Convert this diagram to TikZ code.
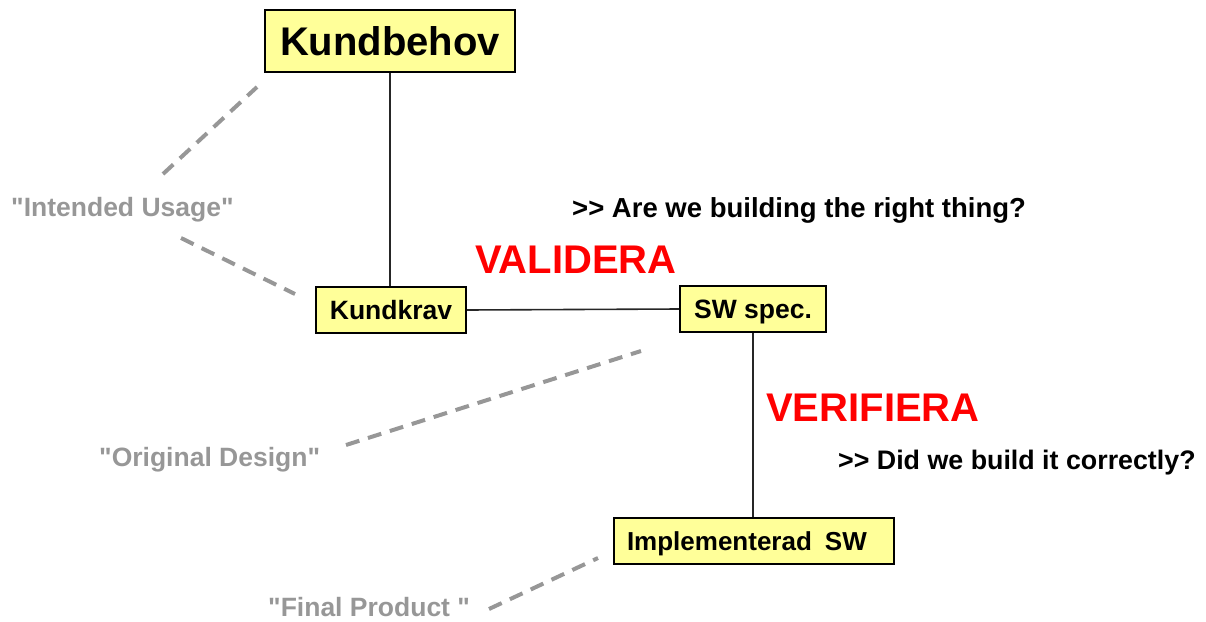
\documentclass[tikz,border=0pt]{standalone}
\usepackage{fontspec}
\setmainfont{Liberation Sans}[Ligatures=TeXOff]
\definecolor{boxfill}{HTML}{FFFF99}
\definecolor{lightgray}{HTML}{979797}
\definecolor{vred}{HTML}{FF0000}
\newcommand{\fsz}[1]{\fontsize{#1}{#1}\selectfont}
\begin{document}
\begin{tikzpicture}[x=1pt,y=-1pt,
  sbox/.style={draw=black, line width=1.6pt, fill=boxfill, inner sep=0pt,
     text height=19pt, text depth=0pt, font=\bfseries\fsz{26.5}},
  conn/.style={draw=black!85, line width=1.6pt},
  grayline/.style={draw=lightgray, line width=4pt, dash pattern=on 14pt off 9pt},
  graytext/.style={text=lightgray, font=\bfseries\fsz{26.5}, anchor=base west, inner sep=0pt},
  qtext/.style={text=black, font=\bfseries\fsz{26.5}, anchor=base west, inner sep=0pt},
  redtext/.style={text=vred, font=\bfseries\fsz{40}, anchor=base west, inner sep=0pt}
]
\useasboundingbox (0,0) rectangle (1206,621);

\node[sbox, font=\bfseries\fsz{40}, text height=28.6pt, minimum width=250pt, minimum height=62pt] (kb) at (390,41) {Kundbehov};
\node[sbox, minimum width=150pt, minimum height=46pt] (kk) at (391,310) {Kundkrav};
\node[sbox, minimum width=146pt, minimum height=46pt] (sw) at (753,309) {SW spec.};
\node[sbox, font=\bfseries\fsz{26}, minimum height=46pt, text width=254pt, inner xsep=13pt, align=left] (impl) at (754,541) {Implementerad\hspace{0.5em}SW};

\draw[conn] (kb.south) -- (kk.north -| kb.south);
\draw[conn] (kk.east) -- (sw.west);
\draw[conn] (sw.south) -- (impl.north -| sw.south);

\node[qtext, font=\bfseries\fsz{27.5}] (q1) at (572,217) {>> Are we building the right thing?};
\node[qtext, font=\bfseries\fsz{26.8}] (q2) at (838,469) {>> Did we build it correctly?};
\node[redtext] (val) at (475,273) {VALIDERA};
\node[redtext] (ver) at (766,421.5) {VERIFIERA};

\node[graytext] (iu) at (11,216) {"Intended Usage"};
\node[graytext] (od) at (99,466) {"Original Design"};
\node[graytext] (fp) at (268,616) {"Final Product "};

\coordinate (iu1a) at (163,174);
\coordinate (iu1b) at (257,87);
\coordinate (iu2a) at (181,238);
\coordinate (iu2b) at (295,294);
\coordinate (oda) at (346,445);
\coordinate (odb) at (641,351);
\coordinate (fpa) at (489,609);
\coordinate (fpb) at (598,558);
\draw[grayline] (iu1a) -- (iu1b);
\draw[grayline] (iu2a) -- (iu2b);
\draw[grayline] (oda) -- (odb);
\draw[grayline] (fpa) -- (fpb);
\end{tikzpicture}
\end{document}
